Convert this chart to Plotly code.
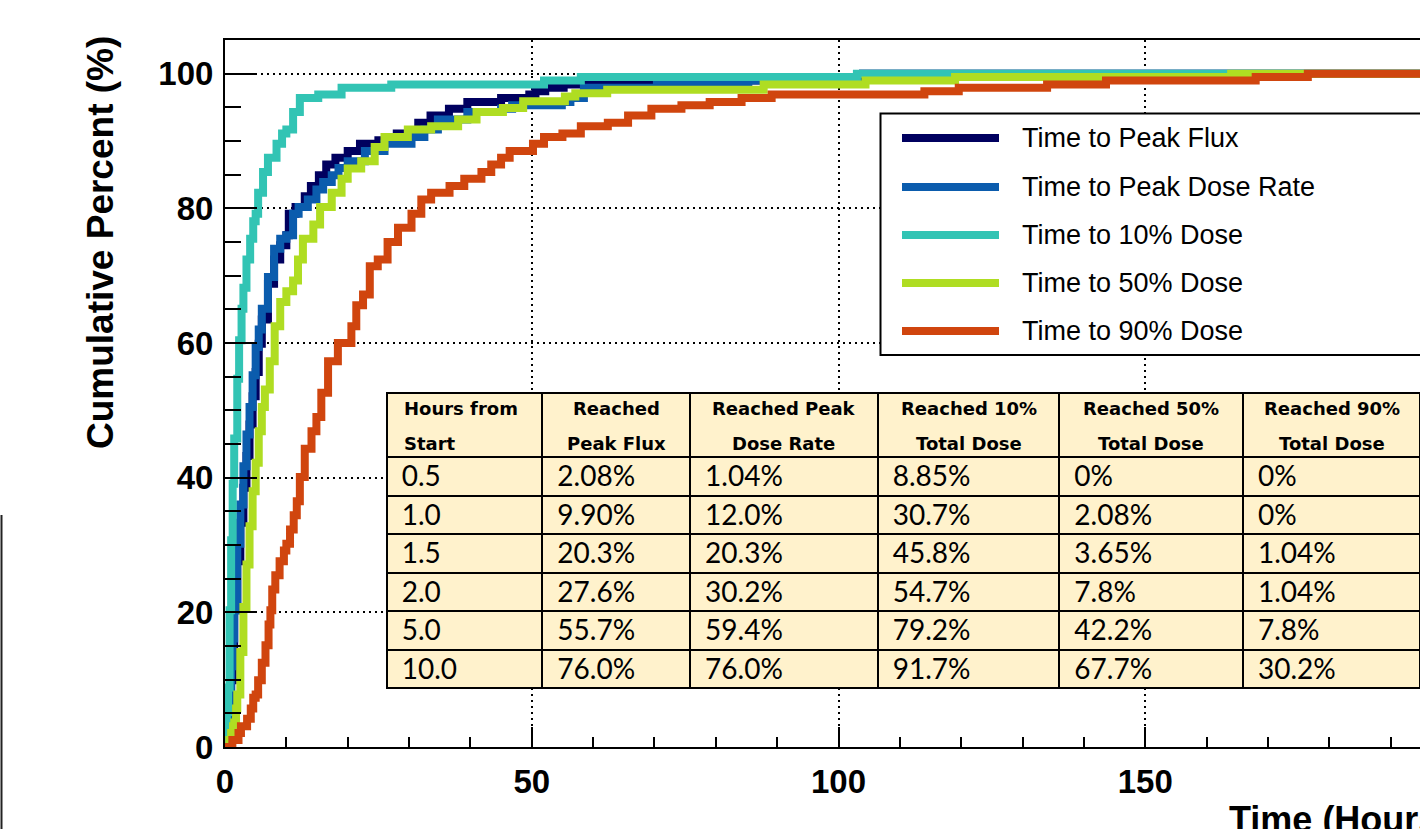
import plotly.graph_objects as go

# ---------------- data ----------------
series_names = ["Time to Peak Flux", "Time to Peak Dose Rate", "Time to 10% Dose",
                "Time to 50% Dose", "Time to 90% Dose"]
series_colors = ["#00005f", "#0b5cad", "#32c4b4", "#afdd22", "#d0450e"]

flux_hours = [0, 0.3, 0.5, 0.8, 1.0, 1.25, 1.5, 2.0, 2.5, 3.0, 3.5, 4.0, 4.5, 5.0, 5.5, 6.0, 7.0, 8.0, 9.0, 10.0,
              10.4, 11.5, 13.0, 14.0, 15.3, 16.5, 18.0, 20.0, 22.0, 25.0, 28.0, 31.5, 33.5, 36.5, 39.5, 45.0,
              49.6, 50.6, 52.2, 55.2, 85.0, 95.0, 104.0, 195.0]
flux_pct = [0, 1.04, 2.08, 5.2, 9.9, 15.1, 20.3, 27.6, 33.3, 38.5, 43.2, 47.9, 52.1, 55.7, 59.9, 63.5, 68.8, 72.4, 74.5, 76.0,
            79.2, 80.2, 81.8, 83.3, 84.9, 86.5, 87.5, 88.5, 89.6, 90.1, 91.1, 92.7, 93.8, 94.8, 95.8, 96.4,
            96.9, 97.4, 97.9, 98.4, 99.0, 99.5, 100, 100]

doserate_hours = [0, 0.4, 0.7, 1.0, 1.25, 1.5, 2.0, 2.5, 3.0, 3.5, 4.0, 4.5, 5.0, 5.5, 6.0, 7.0, 8.0, 9.0, 10.0, 11.1,
                  12.0, 13.5, 14.9, 16.0, 17.4, 18.5, 20.0, 22.8, 26.0, 30.4, 32.5, 34.7, 39.5, 45.0, 46.8, 54.9,
                  56.3, 58.5, 70.4, 85.3, 95.0, 104.0, 195.0]
doserate_pct = [0, 1.04, 5.2, 12.0, 16.1, 20.3, 30.2, 36.0, 41.7, 46.4, 50.5, 55.2, 59.4, 62.0, 65.1, 69.8, 74.0, 75.5, 76.0, 79.2,
                80.2, 81.3, 82.8, 83.9, 84.9, 86.0, 87.0, 88.5, 89.6, 90.6, 91.7, 93.2, 94.3, 94.8, 95.3, 95.8,
                96.4, 97.9, 98.4, 99.0, 99.5, 100, 100]

dose10_hours = [0, 0.15, 0.3, 0.5, 0.75, 1.0, 1.25, 1.5, 2.0, 2.3, 2.7, 3.0, 3.5, 4.1, 4.6, 5.0, 5.4, 6.2, 7.0, 8.4,
                9.3, 10.0, 11.1, 12.2, 15.2, 19.0, 27.1, 52.0, 58.0, 103.0, 195.0]
dose10_pct = [0, 2.6, 5.2, 8.85, 20.3, 30.7, 39.1, 45.8, 54.7, 60.4, 65.1, 68.2, 72.4, 75.5, 78.1, 79.2, 82.3, 85.4, 87.5, 89.6,
              91.1, 91.7, 94.3, 96.4, 96.9, 97.9, 98.4, 99.0, 99.5, 100, 100]

dose50_hours = [0, 0.7, 1.0, 1.3, 1.5, 1.8, 2.0, 2.5, 3.0, 3.5, 4.0, 4.5, 5.0, 5.5, 6.0, 6.5, 7.3, 8.1, 9.0, 10.0,
                11.1, 11.9, 12.7, 14.4, 15.5, 17.4, 19.0, 20.0, 22.2, 24.4, 26.0, 29.8, 33.6, 38.0, 41.0, 45.3,
                48.6, 55.4, 57.1, 62.3, 87.8, 104.4, 119.0, 164.0, 195.0]
dose50_pct = [0, 1.04, 2.08, 3.1, 3.65, 5.7, 7.8, 14.1, 20.8, 27.1, 32.8, 38.0, 42.2, 46.9, 50.5, 53.1, 57.3, 62.5, 66.1, 67.7,
              69.3, 72.4, 75.5, 77.6, 80.2, 82.3, 84.4, 85.9, 87.0, 89.1, 90.6, 91.7, 92.2, 93.2, 94.3, 94.9,
              95.9, 96.6, 97.1, 97.6, 98.4, 99.0, 99.5, 100, 100]

dose90_hours = [0, 1.2, 2.2, 2.6, 3.6, 4.2, 4.6, 5.0, 5.4, 6.0, 6.6, 7.1, 7.4, 7.7, 8.2, 8.9, 9.6, 10.0, 10.6, 11.2,
                11.7, 12.2, 13.0, 14.1, 14.9, 15.7, 16.8, 18.4, 20.6, 21.4, 22.5, 23.6, 24.9, 26.5, 28.2, 30.4,
                32.0, 33.6, 36.6, 39.0, 41.8, 43.4, 45.0, 46.4, 50.2, 52.0, 55.0, 58.0, 62.4, 65.7, 69.5, 74.4,
                79.0, 84.2, 89.1, 114.0, 119.6, 134.0, 143.6, 168.0, 176.5, 195.0]
dose90_pct = [0, 1.04, 2.08, 3.1, 4.2, 5.7, 7.3, 7.8, 9.9, 12.5, 15.1, 18.2, 20.3, 23.4, 25.5, 27.6, 29.2, 30.2, 32.3, 34.4,
              36.5, 40.1, 44.3, 46.9, 49.0, 52.6, 57.3, 60.0, 62.5, 65.6, 67.2, 71.4, 72.4, 75.0, 77.1, 79.2,
              81.3, 82.3, 83.3, 84.4, 85.4, 86.5, 87.5, 88.5, 89.6, 90.6, 91.1, 92.2, 92.7, 93.8, 94.8, 95.3,
              95.8, 96.4, 96.9, 97.4, 97.9, 98.4, 99.0, 99.5, 100, 100]

x_ticks = [0, 50, 100, 150, 200]
y_ticks = [0, 20, 40, 60, 80, 100]

table_header = [["Hours from", "Start"], ["Reached", "Peak Flux"], ["Reached Peak", "Dose Rate"],
                ["Reached 10%", "Total Dose"], ["Reached 50%", "Total Dose"], ["Reached 90%", "Total Dose"]]
hours_from_start = ["0.5", "1.0", "1.5", "2.0", "5.0", "10.0"]
reached_peak_flux = ["2.08%", "9.90%", "20.3%", "27.6%", "55.7%", "76.0%"]
reached_peak_dose_rate = ["1.04%", "12.0%", "20.3%", "30.2%", "59.4%", "76.0%"]
reached_10_dose = ["8.85%", "30.7%", "45.8%", "54.7%", "79.2%", "91.7%"]
reached_50_dose = ["0%", "2.08%", "3.65%", "7.8%", "42.2%", "67.7%"]
reached_90_dose = ["0%", "0%", "1.04%", "1.04%", "7.8%", "30.2%"]

# ---------------- layout geometry ----------------
W, H = 1420, 829
L, R, T, B = 225, 0, 40, 82
PW, PH = W - L - R, H - T - B


def px(xp):
    return (xp - L) / PW


def py(yp):
    return (H - B - yp) / PH


fig = go.Figure()

all_x = [flux_hours, doserate_hours, dose10_hours, dose50_hours, dose90_hours]
all_y = [flux_pct, doserate_pct, dose10_pct, dose50_pct, dose90_pct]
for name, color, xs, ys in zip(series_names, series_colors, all_x, all_y):
    fig.add_trace(go.Scatter(x=xs, y=ys, mode="lines", name=name, showlegend=False,
                             line=dict(color=color, width=8, shape="hv")))

# table
cells_cols = [hours_from_start, reached_peak_flux, reached_peak_dose_rate,
              reached_10_dose, reached_50_dose, reached_90_dose]
col_widths = [156, 148, 188, 182, 184, 177]
tbl_left, tbl_right, tbl_top = 386.5, 1420.0, 393.0
nb = "\u00a0"

fig.add_trace(go.Table(
    domain=dict(x=[px(tbl_left), px(tbl_right)], y=[py(700), py(tbl_top)]),
    columnwidth=col_widths,
    header=dict(values=["" for _ in table_header],
                fill=dict(color="#fff2cc"),
                line=dict(color="black", width=2),
                font=dict(family="DejaVu Sans", size=17, color="black"),
                height=64),
    cells=dict(values=[[nb + v for v in col] for col in cells_cols],
               align="left",
               fill=dict(color="#fff2cc"),
               line=dict(color="black", width=2),
               font=dict(family="Lato", size=28, color="black"),
               height=38.5),
))

shapes = []
annotations = []

# table header labels (two centred lines per column, first column left aligned)
scale = (tbl_right - tbl_left) / sum(col_widths)
cum = 0.0
for i, (lines, w) in enumerate(zip(table_header, col_widths)):
    c_left = tbl_left + cum * scale
    c_mid = tbl_left + (cum + w / 2) * scale
    cum += w
    for ln, yy in zip(lines, [408, 443]):
        if i == 0:
            xx, anchor = px(c_left + 15), "left"
        else:
            xx, anchor = px(c_mid), "center"
        annotations.append(dict(text=f"<b>{ln}</b>", xref="paper", yref="paper", x=xx, y=py(yy),
                                xanchor=anchor, yanchor="middle", showarrow=False,
                                font=dict(family="DejaVu Sans", size=18, color="black")))

# legend box
shapes.append(dict(type="rect", xref="paper", yref="paper", x0=px(880.5), x1=px(1440),
                   y0=py(355), y1=py(113.5), fillcolor="white", line=dict(color="black", width=2),
                   layer="above"))
row_y = [138, 187, 235, 283, 331]
for name, color, yy in zip(series_names, series_colors, row_y):
    shapes.append(dict(type="line", xref="paper", yref="paper", x0=px(902), x1=px(999),
                       y0=py(yy), y1=py(yy), line=dict(color=color, width=8), layer="above"))
    annotations.append(dict(text=name, xref="paper", yref="paper", x=px(1020), y=py(yy),
                            xanchor="left", yanchor="middle", showarrow=False,
                            font=dict(family="Liberation Sans", size=27, color="black")))

# artifact line at far left
shapes.append(dict(type="line", xref="paper", yref="paper", x0=px(1.5), x1=px(1.5),
                   y0=py(515), y1=py(840), line=dict(color="#222222", width=2), layer="above"))

annotations.append(dict(text="Cumulative Percent (%)", xref="paper", yref="paper",
                        x=px(100), y=py(243), textangle=-90, showarrow=False,
                        xanchor="center", yanchor="middle",
                        font=dict(family="Liberation Sans", size=37, color="black", weight="bold")))
annotations.append(dict(text="Time (Hours)", xref="paper", yref="paper",
                        x=px(1227), y=py(797), showarrow=False, xanchor="left", yanchor="top",
                        font=dict(family="Liberation Sans", size=36, color="black", weight="bold")))

grid_dash = "2px,4px"
fig.update_layout(
    width=W, height=H, margin=dict(l=L, r=R, t=T, b=B, pad=0),
    paper_bgcolor="white", plot_bgcolor="white",
    shapes=shapes, annotations=annotations,
    xaxis=dict(range=[0, (W - L) / 6.135], tickvals=x_ticks, ticktext=[str(v) for v in x_ticks],
               showline=True, linecolor="black", linewidth=2, mirror=True,
               ticks="inside", ticklen=20, tickwidth=2, tickcolor="black",
               showgrid=True, gridcolor="black", gridwidth=1.5, griddash=grid_dash,
               zeroline=False, ticklabelstandoff=4,
               tickfont=dict(family="Liberation Sans", size=33, color="black", weight="bold"),
               minor=dict(dtick=10, ticklen=10, tickwidth=2, tickcolor="black", ticks="inside", showgrid=False)),
    yaxis=dict(range=[0, 105], tickvals=y_ticks, ticktext=[str(v) for v in y_ticks],
               showline=True, linecolor="black", linewidth=2, mirror=False,
               ticks="inside", ticklen=32, tickwidth=2, tickcolor="black",
               showgrid=True, gridcolor="black", gridwidth=1.5, griddash=grid_dash,
               zeroline=False, ticklabelstandoff=3,
               tickfont=dict(family="Liberation Sans", size=33, color="black", weight="bold"),
               minor=dict(dtick=5, ticklen=16, tickwidth=2, tickcolor="black", ticks="inside", showgrid=False)),
)

fig.write_html("out.html", config={"displayModeBar": False},
               post_script="document.body.style.margin='0px';document.body.style.overflow='hidden';")
